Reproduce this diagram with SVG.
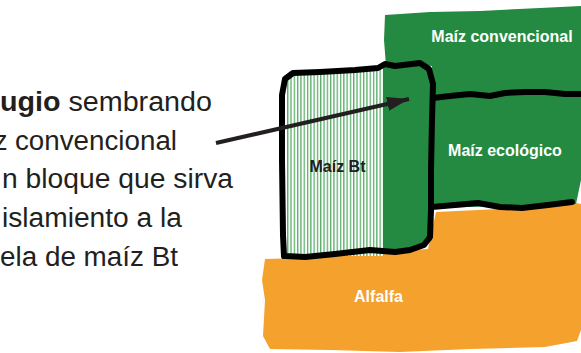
<svg xmlns="http://www.w3.org/2000/svg" width="581" height="353" viewBox="0 0 581 353">
<defs>
<style>
.body{font-family:"Liberation Sans",Arial,sans-serif;font-size:27px;fill:#231f20}
.lbl{font-family:"Liberation Sans",Arial,sans-serif;font-size:16px;font-weight:bold;text-anchor:middle}
.w{fill:#ffffff}
.k{fill:#231f20}
.outline{fill:none;stroke:#000000;stroke-width:6;stroke-linejoin:round;stroke-linecap:round}
</style>
<pattern id="hatch" patternUnits="userSpaceOnUse" width="3.3" height="10">
<rect width="3.3" height="10" fill="#ffffff"/>
<rect x="0" y="0" width="1.3" height="10" fill="#5aae6a"/>
</pattern>
<marker id="ah" markerUnits="userSpaceOnUse" markerWidth="24" markerHeight="14" refX="22" refY="7" orient="auto">
<path d="M0,0 L22,7 L0,14 Z" fill="#231f20"/>
</marker>
</defs>
<g id="text-block">
<text class="body" x="0" y="111" textLength="212" lengthAdjust="spacingAndGlyphs"><tspan font-weight="bold">ugio</tspan> sembrando</text>
<text class="body" x="-6" y="150">z</text>
<text class="body" x="15" y="150" textLength="162" lengthAdjust="spacingAndGlyphs">convencional</text>
<text class="body" x="2" y="188" textLength="231" lengthAdjust="spacingAndGlyphs">n bloque que sirva</text>
<text class="body" x="2" y="227" textLength="180" lengthAdjust="spacingAndGlyphs">islamiento a la</text>
<text class="body" x="0" y="266" textLength="178" lengthAdjust="spacingAndGlyphs">ela de maíz Bt</text>
</g>
<g id="alfalfa">
<path d="M265,259 L300,258 L428,249 L436,212 L520,208 L576,203 L581,204 L581,330 L577,341 L545,347 L470,349 L400,352 L330,350 L270,349 L263,336 L265,300 L262,280 Z" fill="#f4a12e"/>
<text class="lbl w" x="378.5" y="302">Alfalfa</text>
</g>
<g id="maiz-convencional">
<path d="M385,15 L430,12 L480,11 L540,8 L581,6 L581,96 L432,98 L432,66 L400,64 L386,66 L384,40 Z" fill="#248a41"/>
<text class="lbl w" x="502" y="42">Maíz convencional</text>
</g>
<g id="maiz-ecologico">
<path d="M432,96 L581,94 L581,180 L576,204 L432,208 Z" fill="#248a41"/>
<text class="lbl w" x="505" y="156">Maíz ecológico</text>
</g>
<g id="maiz-bt">
<path d="M287,74 L330,72 L360,70 L384,67 L384,256 L287,256 Z" fill="url(#hatch)"/>
<path d="M383,66 L400,65 L420,64 L432,75 L432,240 L422,248 L400,252 L383,253 Z" fill="#248a41"/>
<path class="outline" d="M284,256 L283,235 L282,160 L282,95 L285,79 L293,73 L320,72 L355,70 L378,68 L385,64 L395,66 L420,63 L429,69 L433,84 L432,120 L431,170 L431,210 L430,237 L424,245 L410,250 L395,252 L370,250 L335,254 L305,257 L286,256"/>
<text class="lbl k" x="337.5" y="172">Maíz Bt</text>
</g>
<g id="connectors">
<path class="outline" d="M433,98 L450,96 L470,94 L490,96 L505,93 L525,92 L545,92 L565,94 L581,94"/>
<path class="outline" d="M432,207 L455,205 L478,203 L500,207 L522,208 L548,205 L572,202"/>
<line x1="216" y1="143" x2="409" y2="99" stroke="#231f20" stroke-width="4" marker-end="url(#ah)"/>
</g>
</svg>
